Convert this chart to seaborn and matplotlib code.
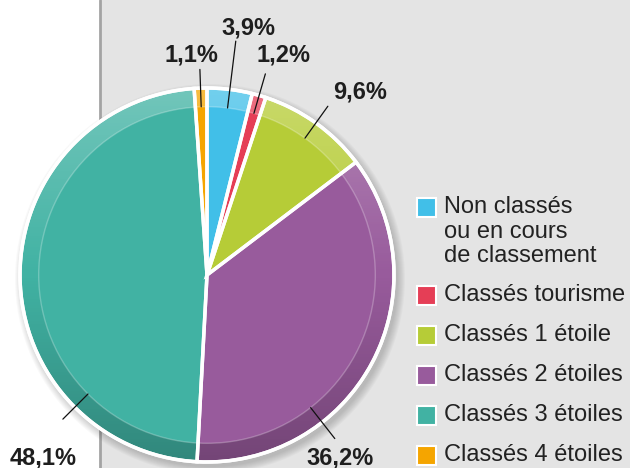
import numpy as np
import matplotlib.pyplot as plt
from matplotlib.patches import Rectangle, Circle, Wedge
import seaborn as sns

# Données
categories = ['Non classés\nou en cours\nde classement', 'Classés tourisme', 'Classés 1 étoile',
              'Classés 2 étoiles', 'Classés 3 étoiles', 'Classés 4 étoiles']
shares = [3.9, 1.2, 9.6, 36.2, 48.1, 1.1]
share_labels = ['3,9%', '1,2%', '9,6%', '36,2%', '48,1%', '1,1%']
colors = ['#41bfe8', '#e53e56', '#b6cc37', '#985b9c', '#41b2a3', '#f5a500']

# Mise en page (pixels, y depuis le haut)
W, H = 630, 468
CX, CY, R = 207, H - 275, 187
label_pos = [(248, 28), (284, 55), (360, 92), (340, 458), (43, 458), (191, 55)]
line_angle = {3: -52, 4: -135}
line_outer = [1.26, 1.12, 1.11, 1.11, 1.09, 1.10]
legend_y = [207, 295, 335, 375, 415, 455]

sns.set_theme(style='white')
plt.rcParams['font.family'] = ['Liberation Sans', 'DejaVu Sans']

fig = plt.figure(figsize=(6.3, 4.68), dpi=100)
ax = fig.add_axes([0, 0, 1, 1])

# fond gris
ax.add_patch(Rectangle((100, 0), W - 100, H, color='#e4e4e4', lw=0, zorder=0))
ax.plot([100, 100], [0, H], color='#a3a3a3', lw=2, zorder=0.5)

# ombre
for i in range(8):
    ax.add_patch(Circle((CX + 3, CY - 4), R + 8 - i, color='black', alpha=0.025, lw=0, zorder=1))

wedges, _ = ax.pie(shares, colors=colors, startangle=90, counterclock=False,
                   center=(CX, CY), radius=R,
                   wedgeprops=dict(edgecolor='none', linewidth=0, zorder=2))

# anneau extérieur : dégradé clair en haut, sombre en bas
t = np.linspace(-1, 1, 256)[:, None]
grad = np.zeros((256, 2, 4))
grad[..., :3] = np.where(t > 0, 1.0, 0.0)[..., None]
grad[..., 3] = np.where(t > 0, 0.26 * t, 0.24 * -t)
ring = Wedge((CX, CY), R, 0, 360, width=0.1 * R, transform=ax.transData)
img = ax.imshow(grad, extent=[CX - R, CX + R, CY - R, CY + R], origin='lower',
                aspect='auto', zorder=3, interpolation='bilinear')
img.set_clip_path(ring)
ax.add_patch(Circle((CX, CY), 0.9 * R, fill=False, edgecolor='white', alpha=0.25, lw=1, zorder=3.5))

# séparations blanches
ax.pie(shares, colors=colors, startangle=90, counterclock=False, center=(CX, CY), radius=R,
       wedgeprops=dict(fill=False, edgecolor='white', linewidth=2.5, zorder=4))
ax.add_patch(Circle((CX, CY), R, fill=False, edgecolor='white', lw=2.5, zorder=4))

# étiquettes et traits
for i, w in enumerate(wedges):
    ang = np.deg2rad(line_angle.get(i, (w.theta1 + w.theta2) / 2))
    r0, r1 = 0.9 * R, line_outer[i] * R
    ax.plot([CX + r0 * np.cos(ang), CX + r1 * np.cos(ang)],
            [CY + r0 * np.sin(ang), CY + r1 * np.sin(ang)], color='#111111', lw=0.9, zorder=5)
    x, y = label_pos[i]
    ax.text(x, H - y, share_labels[i], fontsize=17, fontweight='bold', color='#1e1e1e',
            ha='center', va='center', zorder=6)

# légende
for i, cat in enumerate(categories):
    yc = H - legend_y[i]
    ax.add_patch(Rectangle((417, yc - 9.5), 19, 19, facecolor=colors[i], edgecolor='white',
                           lw=1.5, zorder=5))
    for k, line in enumerate(cat.split('\n')):
        ax.text(444, yc - k * 24.5, line, fontsize=17, color='#222222', ha='left', va='center',
                zorder=6)

ax.set_xlim(0, W)
ax.set_ylim(0, H)
ax.set_aspect('equal')
ax.axis('off')

fig.savefig('out.png', dpi=100)
